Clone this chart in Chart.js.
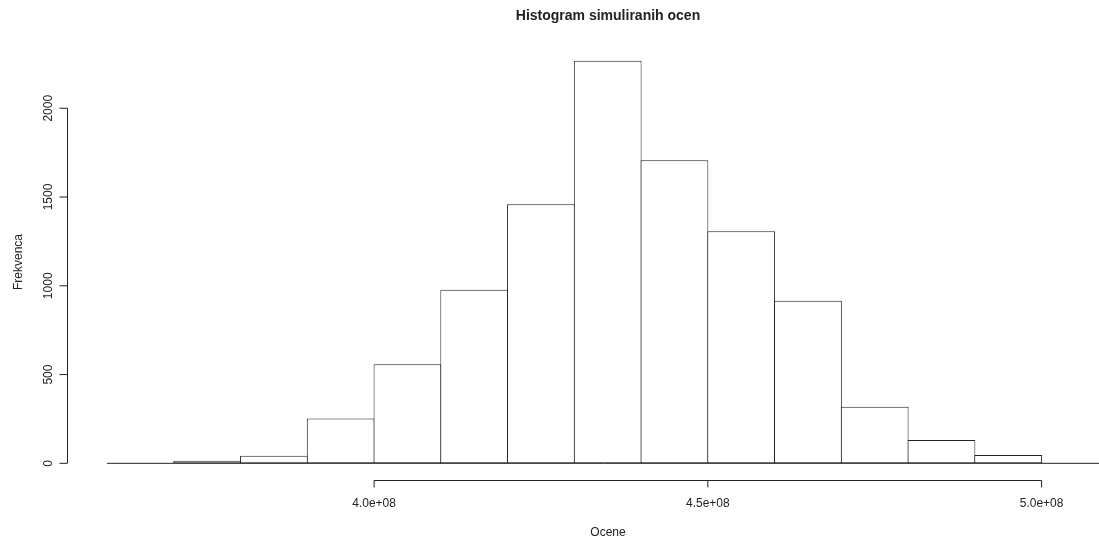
<!DOCTYPE html>
<html>
<head>
<meta charset="utf-8">
<script src="https://cdn.jsdelivr.net/npm/chart.js@4"></script>
<style>
  html, body { margin: 0; padding: 0; background: #ffffff; overflow: hidden; }
  canvas { display: block; }
</style>
</head>
<body>
<canvas id="histogram" width="1099" height="538"></canvas>
<script>
// bins of 1e7, centers
const binCenters = [3.75e8, 3.85e8, 3.95e8, 4.05e8, 4.15e8, 4.25e8, 4.35e8,
  4.45e8, 4.55e8, 4.65e8, 4.75e8, 4.85e8, 4.95e8];
const frequencies = [15, 43, 253, 558, 978, 1459, 2268, 1707, 1307, 916, 319, 131, 47];

const xTicks = [4.0e8, 4.5e8, 5.0e8];
const xTickLabels = ["4.0e+08", "4.5e+08", "5.0e+08"];
const yTicks = [0, 500, 1000, 1500, 2000];
const yTickLabels = ["0", "500", "1000", "1500", "2000"];

const baselineX = [3.6e8, 5.1e8];

const titleText = "Histogram simuliranih ocen";
const xTitle = "Ocene";
const yTitle = "Frekvenca";

const ink = "#222222";
const font = "'Liberation Sans', Arial, sans-serif";

// R style axes: line only between first and last tick
const rAxes = {
  id: "rAxes",
  afterDraw: (chart) => {
    const { ctx, chartArea, scales } = chart;
    const x = scales.x;
    const y = scales.y;
    ctx.save();
    ctx.strokeStyle = ink;
    ctx.fillStyle = ink;
    ctx.lineWidth = 1;

    // x axis
    const ax = chartArea.bottom + 0.5;
    ctx.beginPath();
    ctx.moveTo(x.getPixelForValue(xTicks[0]), ax);
    ctx.lineTo(x.getPixelForValue(xTicks[xTicks.length - 1]), ax);
    xTicks.forEach((t) => {
      const px = x.getPixelForValue(t);
      ctx.moveTo(px, ax);
      ctx.lineTo(px, ax + 7);
    });
    ctx.stroke();
    ctx.font = "12px " + font;
    ctx.textAlign = "center";
    ctx.textBaseline = "alphabetic";
    xTicks.forEach((t, i) => {
      ctx.fillText(xTickLabels[i], x.getPixelForValue(t), 507);
    });

    // y axis
    const ay = chartArea.left + 0.5;
    ctx.beginPath();
    ctx.moveTo(ay, y.getPixelForValue(yTicks[0]));
    ctx.lineTo(ay, y.getPixelForValue(yTicks[yTicks.length - 1]));
    yTicks.forEach((t) => {
      const py = y.getPixelForValue(t);
      ctx.moveTo(ay, py);
      ctx.lineTo(ay - 8, py);
    });
    ctx.stroke();
    yTicks.forEach((t, i) => {
      ctx.save();
      ctx.translate(52, y.getPixelForValue(t));
      ctx.rotate(-Math.PI / 2);
      ctx.fillText(yTickLabels[i], 0, 0);
      ctx.restore();
    });

    // titles
    ctx.font = "bold 14px " + font;
    ctx.fillText(titleText, 608, 20);
    ctx.font = "12px " + font;
    ctx.fillText(xTitle, 608, 536);
    ctx.save();
    ctx.translate(22, 262);
    ctx.rotate(-Math.PI / 2);
    ctx.fillText(yTitle, 0, 0);
    ctx.restore();
    ctx.restore();
  },
};

const drawHistogram = () => {
  const ctx = document.getElementById("histogram");

  new Chart(ctx, {
    type: "bar",
    data: {
      datasets: [
        {
          type: "line",
          data: baselineX.map((v) => ({ x: v, y: 0 })),
          borderColor: ink,
          borderWidth: 1,
          pointRadius: 0,
          clip: false,
        },
        {
          data: binCenters.map((c, i) => ({ x: c, y: frequencies[i] })),
          backgroundColor: "#ffffff",
          borderColor: ink,
          borderWidth: 1,
          borderSkipped: false,
          categoryPercentage: 1,
          barPercentage: 1.015,
        },
      ],
    },
    options: {
      responsive: false,
      animation: false,
      devicePixelRatio: 1,
      layout: {
        padding: { left: 67, right: 4, top: 44, bottom: 58 },
      },
      plugins: {
        legend: { display: false },
        title: { display: false },
        tooltip: { enabled: false },
      },
      scales: {
        x: {
          type: "linear",
          offset: false,
          min: 3.54e8,
          max: 5.08e8,
          display: false,
        },
        y: {
          min: -94,
          max: 2362,
          display: false,
        },
      },
    },
    plugins: [rAxes],
  });
};

drawHistogram();
</script>
</body>
</html>
